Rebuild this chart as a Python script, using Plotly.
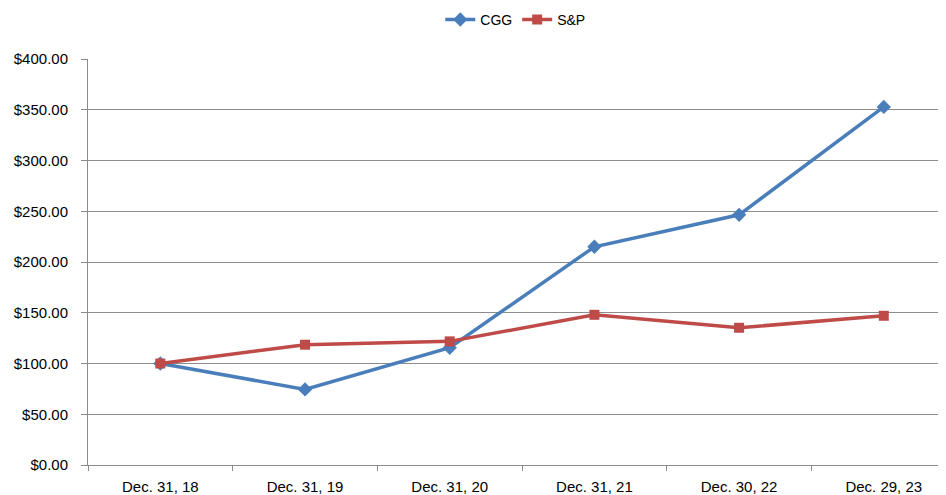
import plotly.graph_objects as go

categories = ["Dec. 31, 18", "Dec. 31, 19", "Dec. 31, 20", "Dec. 31, 21", "Dec. 30, 22", "Dec. 29, 23"]
cgg = [100.0, 74.5, 115.5, 215.0, 246.5, 352.8]
sp = [100.0, 118.5, 121.8, 148.0, 135.2, 147.0]
y_ticks = [0, 50, 100, 150, 200, 250, 300, 350, 400]
y_tick_labels = ["$%.2f" % v for v in y_ticks]

font_family = "Liberation Sans, Arial, sans-serif"
grid_col = "#8c8c8c"

fig = go.Figure()
fig.add_trace(go.Scatter(
    x=categories, y=cgg, name="CGG", mode="lines+markers",
    line=dict(color="#4A7EBB", width=3.5),
    marker=dict(symbol="diamond", size=11, color="#4A7EBB"),
))
fig.add_trace(go.Scatter(
    x=categories, y=sp, name="S&P", mode="lines+markers",
    line=dict(color="#BE4B48", width=3.5),
    marker=dict(symbol="square", size=10, color="#BE4B48"),
))

# page body has an 8px margin; compensate in figure margins
fig.update_layout(
    width=946, height=495,
    margin=dict(l=80, r=8, t=51, b=38, autoexpand=False),
    paper_bgcolor="white", plot_bgcolor="white",
    font=dict(family=font_family, size=14, color="#000000"),
    legend=dict(orientation="h", x=0.498, xanchor="center", y=0.976, yanchor="middle",
                yref="container", font=dict(size=14), itemwidth=30,
                bgcolor="rgba(0,0,0,0)"),
    showlegend=True,
)

fig.update_xaxes(
    type="category", range=[-0.5, 5.43], automargin=False,
    showgrid=False, showline=True, linecolor=grid_col, linewidth=1,
    ticks="outside", tickson="boundaries", ticklen=5, tickcolor=grid_col,
    ticklabelstandoff=8,
    tickfont=dict(size=15), zeroline=False,
)
fig.update_yaxes(
    range=[0, 400], tickvals=y_ticks, ticktext=y_tick_labels, automargin=False,
    showgrid=True, gridcolor=grid_col, gridwidth=1,
    showline=True, linecolor=grid_col, linewidth=1,
    ticks="outside", ticklen=6, tickcolor=grid_col, ticklabelstandoff=10,
    tickfont=dict(size=15), zeroline=False,
)

fig.write_html("out.html")
